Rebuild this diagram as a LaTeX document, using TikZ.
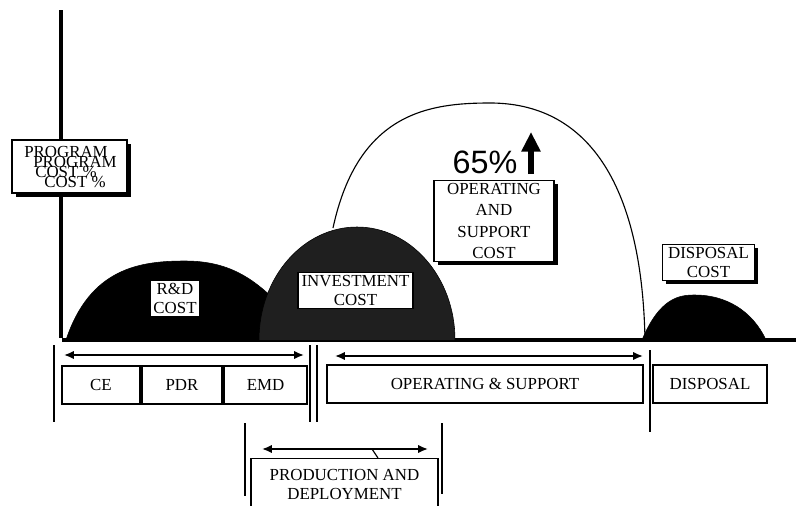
\documentclass[tikz,border=0pt]{standalone}
\usepackage{fontspec}
\setmainfont{Liberation Serif}
\newfontfamily\pctfont{Liberation Sans}
\usetikzlibrary{shadows,arrows.meta}

\begin{document}
\begin{tikzpicture}[x=0.025cm,y=-0.025cm,
    labelbox/.style={draw,thick,fill=white,align=center,inner sep=2pt,font=\fontsize{12}{13}\selectfont},
    shadowbox/.style={labelbox,drop shadow={shadow xshift=2.5pt,shadow yshift=-2.5pt,fill=black,opacity=1}},
    phasebox/.style={draw,thick,fill=white,minimum height=0.95cm,inner sep=0pt,font=\fontsize{12}{14}\selectfont},
    span/.style={{Latex[length=7pt,width=6pt]}-{Latex[length=7pt,width=6pt]},line width=1.3pt},
    bar/.style={line width=1.6pt}]
    \useasboundingbox (0,0) rectangle (796,506);

    % axes
    \draw[line width=2.5pt] (61,10) -- (61,338);
    \draw[line width=2.5pt] (62,340) -- (796,340);

    % cost humps
    \filldraw[black] (66,340) .. controls (90,268) and (140,261) .. (185,261)
        .. controls (228,261) and (252,278) .. (275,300) -- (275,340) -- cycle;
    \filldraw[black!88,draw=black] (259,340) arc[start angle=180,end angle=0,x radius=98,y radius=-113];
    \draw[thick] (333,228) .. controls (358,112) and (430,103) .. (490,103)
        .. controls (585,103) and (642,180) .. (645,340);
    \filldraw[black] (642,340) .. controls (660,297) and (680,295) .. (695,295)
        .. controls (725,295) and (752,310) .. (766,340) -- cycle;

    % labels
    \node[shadowbox,minimum width=2.875cm,minimum height=1.325cm] (progbox) at (69.5,166.5) {};
    \node[align=center,font=\fontsize{12}{14}\selectfont] (progA) at (66,162) {PROGRAM\\COST \%};
    \node[align=center,font=\fontsize{12}{14}\selectfont] (progB) at (75,172) {PROGRAM\\COST \%};
    \node[labelbox,minimum width=1.1cm] (rdcost) at (175,298.5) {R\&D\\COST};
    \node[labelbox,minimum width=2.875cm] (invcost) at (355.5,290.5) {INVESTMENT\\COST};
    \node[font=\pctfont\fontsize{23}{25}\selectfont] (pct) at (485,162) {65\%};
    \draw[-{Triangle[length=14pt,width=13pt]},line width=4pt] (531,174) -- (531,132);
    \node[shadowbox,minimum width=3cm,font=\fontsize{12}{15}\selectfont] (oscost) at (494,221) {OPERATING\\AND\\SUPPORT\\COST};
    \node[shadowbox,minimum width=2.3cm] (dispcost) at (708.5,262.5) {DISPOSAL\\COST};

    % phases
    \node[phasebox,minimum width=1.95cm] (ce) at (101,385) {CE};
    \node[phasebox,minimum width=2cm] (pdr) at (182,385) {PDR};
    \node[phasebox,minimum width=2.075cm] (emd) at (265.5,385) {EMD};
    \node[phasebox,minimum width=7.9cm] (ops) at (485,384) {OPERATING \& SUPPORT};
    \node[phasebox,minimum width=2.85cm] (disp) at (710,384) {DISPOSAL};
    \node[phasebox,minimum width=4.675cm,minimum height=1.3cm,anchor=north,align=center] (prod) at (344.5,458) {PRODUCTION AND\\DEPLOYMENT};

    % phase limits
    \draw[bar] (54,345) -- (54,422);
    \draw[bar] (310,345) -- (310,422);
    \draw[bar] (317,345) -- (317,422);
    \draw[bar] (650,350) -- (650,432);
    \draw[bar] (245,423) -- (245,496);
    \draw[bar] (442,423) -- (442,494);

    % spans
    \coordinate (rdL) at (64,355);
    \coordinate (rdR) at (304,355);
    \coordinate (osL) at (335,356);
    \coordinate (osR) at (643,356);
    \coordinate (pdL) at (262,449);
    \coordinate (pdR) at (428,449);
    \coordinate (pdT) at (372,449);
    \draw[span] (rdL) -- (rdR);
    \draw[span] (osL) -- (osR);
    \draw[span] (pdL) -- (pdR);
    \draw[thick] (pdT) -- (prod.north -| 378,0);
\end{tikzpicture}
\end{document}
